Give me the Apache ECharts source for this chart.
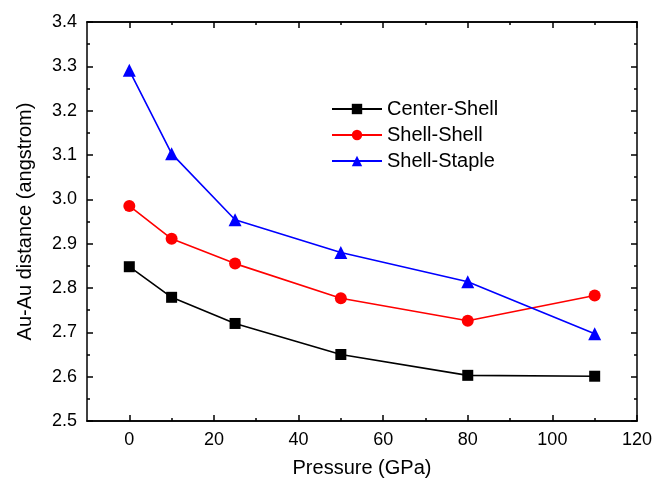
<!DOCTYPE html>
<html><head><meta charset="utf-8">
<script src="https://cdn.jsdelivr.net/npm/echarts@6/dist/echarts.min.js"></script>
<style>html,body{margin:0;padding:0;background:#fff}#c{width:655px;height:484px}</style>
</head><body><div id="c"></div>
<script>
const pressure = [0, 10, 25, 50, 80, 110];
const centerShell = [2.848, 2.779, 2.720, 2.650, 2.603, 2.601];
const shellShell = [2.985, 2.911, 2.855, 2.777, 2.726, 2.783];
const shellStaple = [3.291, 3.103, 2.954, 2.880, 2.814, 2.697];
const xMajorTicks = [0, 20, 40, 60, 80, 100, 120];
const xMinorTicks = [10, 30, 50, 70, 90, 110];

const FONT = 'Liberation Sans, Arial, sans-serif';
const chart = echarts.init(document.getElementById('c'));
function pairs(v){ return pressure.map((p,i)=>[p, v[i]]); }
const axisLine = {show:true, onZero:false, lineStyle:{color:'#000', width:1.5}};
const xBase = {type:'value', min:-10, max:120, splitLine:{show:false}, axisLine: axisLine};
chart.setOption({
  animation:false,
  grid:{left:87, right:18, top:22, bottom:63},
  legend:{
    orient:'vertical', left:326, top:94, itemGap:6, itemWidth:50, itemHeight:13,
    textStyle:{fontFamily:FONT, fontSize:20, lineHeight:20, color:'#000'},
    data:['Center-Shell','Shell-Shell','Shell-Staple']
  },
  xAxis:[
    Object.assign({}, xBase, {position:'bottom', name:'Pressure (GPa)', nameLocation:'middle', nameGap:37,
      nameTextStyle:{fontFamily:FONT, fontSize:20, color:'#000'},
      axisTick:{inside:true, length:6, customValues:xMajorTicks, lineStyle:{color:'#000', width:1.5}},
      axisLabel:{customValues:xMajorTicks, fontFamily:FONT, fontSize:18, color:'#000', margin:10}}),
    Object.assign({}, xBase, {position:'bottom',
      axisTick:{inside:true, length:3, customValues:xMinorTicks, lineStyle:{color:'#000', width:1.5}},
      axisLabel:{show:false}}),
    Object.assign({}, xBase, {position:'top',
      axisTick:{inside:true, length:6, customValues:xMajorTicks, lineStyle:{color:'#000', width:1.5}},
      axisLabel:{show:false}}),
    Object.assign({}, xBase, {position:'top',
      axisTick:{inside:true, length:3, customValues:xMinorTicks, lineStyle:{color:'#000', width:1.5}},
      axisLabel:{show:false}})
  ],
  yAxis:[
    {type:'value', min:2.5, max:3.4, interval:0.1, position:'left',
     name:'Au-Au distance (angstrom)', nameLocation:'middle', nameGap:52,
     nameTextStyle:{fontFamily:FONT, fontSize:20, color:'#000'},
     axisLine:axisLine, splitLine:{show:false},
     axisTick:{inside:true, length:6, lineStyle:{color:'#000', width:1.5}},
     minorTick:{show:true, splitNumber:2, length:3, lineStyle:{color:'#000', width:1.5}},
     axisLabel:{fontFamily:FONT, fontSize:18, color:'#000', margin:10, formatter:v=>v.toFixed(1)}},
    {type:'value', min:2.5, max:3.4, interval:0.1, position:'right',
     axisLine:axisLine, splitLine:{show:false},
     axisTick:{inside:true, length:6, lineStyle:{color:'#000', width:1.5}},
     minorTick:{show:true, splitNumber:2, length:3, lineStyle:{color:'#000', width:1.5}},
     axisLabel:{show:false}}
  ],
  series:[
    {name:'Center-Shell', type:'line', data:pairs(centerShell), symbol:'rect', symbolSize:11,
     itemStyle:{color:'#000'}, lineStyle:{color:'#000', width:1.6}},
    {name:'Shell-Shell', type:'line', data:pairs(shellShell), symbol:'circle', symbolSize:12,
     itemStyle:{color:'#ff0000'}, lineStyle:{color:'#ff0000', width:1.6}},
    {name:'Shell-Staple', type:'line', data:pairs(shellStaple), symbol:'triangle', symbolSize:13,
     itemStyle:{color:'#0000ff'}, lineStyle:{color:'#0000ff', width:1.6}}
  ]
});
</script></body></html>
